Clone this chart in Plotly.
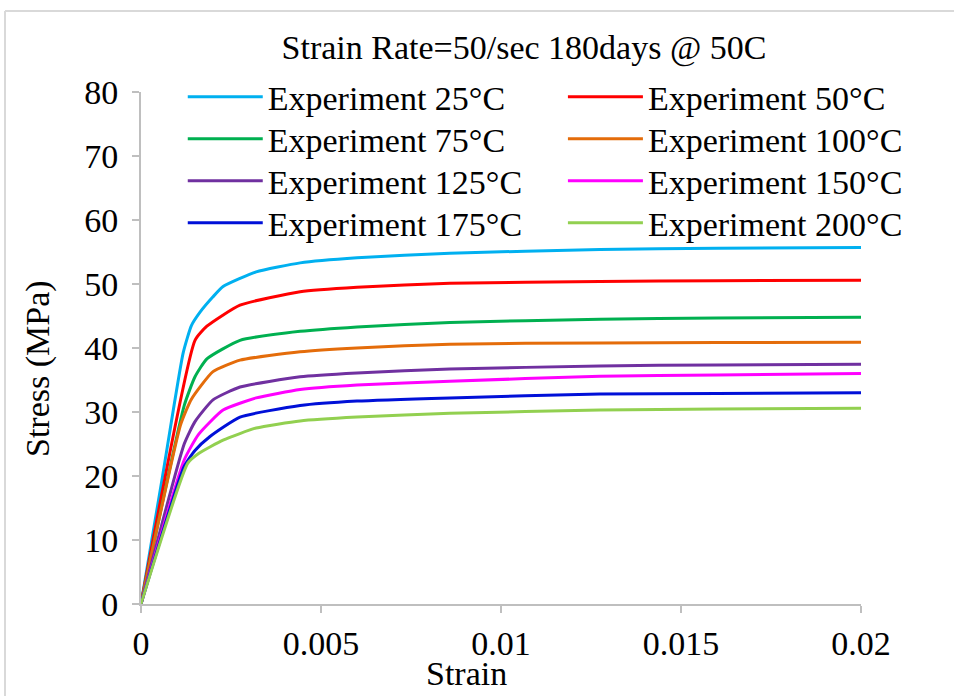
import plotly.graph_objects as go

# ---- data (strain, stress in MPa) ----
names = ["Experiment 25°C", "Experiment 50°C", "Experiment 75°C", "Experiment 100°C",
         "Experiment 125°C", "Experiment 150°C", "Experiment 175°C", "Experiment 200°C"]
colors = ["#00B0F0", "#FF0000", "#00B050", "#E46C0A", "#7030A0", "#FF00FF", "#0010D8", "#92D050"]

strain_25 = [0, 0.0006, 0.00117, 0.0014, 0.00164, 0.002, 0.00228, 0.0032, 0.00442, 0.006, 0.00858, 0.01275, 0.016, 0.02]
stress_25 = [0, 20.0, 39.2, 43.5, 45.6, 48.0, 49.6, 51.9, 53.3, 54.1, 54.8, 55.4, 55.6, 55.7]

strain_50 = [0, 0.0015, 0.00183, 0.00275, 0.00442, 0.006, 0.00858, 0.01275, 0.016, 0.02]
stress_50 = [0, 41.2, 43.4, 46.7, 48.8, 49.5, 50.1, 50.4, 50.5, 50.6]

strain_75 = [0, 0.0012, 0.0015, 0.00183, 0.00275, 0.00442, 0.006, 0.00858, 0.01275, 0.016, 0.02]
stress_75 = [0, 31.0, 35.5, 38.3, 41.2, 42.6, 43.3, 44.0, 44.5, 44.7, 44.8]

strain_100 = [0, 0.0011, 0.0014, 0.002, 0.00275, 0.00442, 0.006, 0.00858, 0.01275, 0.016, 0.02]
stress_100 = [0, 28.0, 32.0, 36.3, 38.1, 39.4, 40.0, 40.6, 40.8, 40.85, 40.9]

strain_125 = [0, 0.0012, 0.0015, 0.002, 0.00275, 0.00442, 0.006, 0.00858, 0.01275, 0.016, 0.02]
stress_125 = [0, 25.0, 28.5, 31.9, 33.9, 35.5, 36.1, 36.7, 37.2, 37.35, 37.45]

strain_150 = [0, 0.0012, 0.0016, 0.00228, 0.0032, 0.00442, 0.006, 0.00858, 0.01275, 0.016, 0.02]
stress_150 = [0, 22.5, 26.5, 30.3, 32.2, 33.5, 34.2, 34.8, 35.6, 35.8, 36.0]

strain_175 = [0, 0.0012, 0.0015, 0.0019, 0.00275, 0.00442, 0.006, 0.00858, 0.01275, 0.016, 0.02]
stress_175 = [0, 21.5, 24.0, 26.1, 29.2, 31.0, 31.7, 32.2, 32.8, 32.9, 33.0]

strain_200 = [0, 0.0013, 0.0016, 0.00228, 0.0032, 0.00442, 0.006, 0.00858, 0.01275, 0.016, 0.02]
stress_200 = [0, 22.0, 23.5, 25.6, 27.5, 28.6, 29.2, 29.8, 30.3, 30.45, 30.6]

x_ticks = [0, 0.005, 0.01, 0.015, 0.02]
x_tick_text = ["0", "0.005", "0.01", "0.015", "0.02"]
y_ticks = [0, 10, 20, 30, 40, 50, 60, 70, 80]

series_x = [strain_25, strain_50, strain_75, strain_100, strain_125, strain_150, strain_175, strain_200]
series_y = [stress_25, stress_50, stress_75, stress_100, stress_125, stress_150, stress_175, stress_200]

FONT = "Liberation Serif, Times New Roman, serif"
FS = 34

# legend grid placement (paper coords): 2 columns x 4 rows
leg_cols = [0.058, 0.586]
leg_rows = [0.990, 0.908, 0.826, 0.744]

fig = go.Figure()
layout_legends = {}
for i, (nm, c, xs, ys) in enumerate(zip(names, colors, series_x, series_y)):
    key = "legend" if i == 0 else f"legend{i + 1}"
    fig.add_trace(go.Scatter(
        x=xs, y=ys, mode="lines", name=nm, showlegend=True,
        line=dict(color=c, width=3, shape="spline", smoothing=0.5),
        legend=key,
    ))
    layout_legends[key] = dict(
        font=dict(family=FONT, size=FS, color="black"),
        bgcolor="rgba(0,0,0,0)", borderwidth=0, itemwidth=75,
        x=leg_cols[i % 2], y=leg_rows[i // 2], xanchor="left", yanchor="middle",
    )

axis_font = dict(family=FONT, size=FS, color="black")

fig.update_layout(
    width=954, height=696,
    showlegend=True,
    margin=dict(l=141, r=93, t=92, b=92),
    paper_bgcolor="white", plot_bgcolor="white",
    title=dict(text="Strain Rate=50/sec 180days @ 50C", x=524 / 954, xanchor="center",
               y=1 - 47 / 696, yanchor="middle", font=axis_font),
    xaxis=dict(range=[0, 0.02], tickvals=x_ticks, ticktext=x_tick_text,
               showgrid=False, zeroline=False, showline=True, linecolor="#BFBFBF", linewidth=2,
               ticks="outside", ticklen=7, tickcolor="#BFBFBF", tickwidth=2,
               tickfont=axis_font, ticklabelstandoff=1),
    yaxis=dict(range=[0, 80], tickvals=y_ticks,
               showgrid=False, zeroline=False, showline=True, linecolor="#BFBFBF", linewidth=2,
               ticks="outside", ticklen=7, tickcolor="#BFBFBF", tickwidth=2,
               tickfont=axis_font, ticklabelstandoff=7),
    annotations=[
        dict(text="Strain", xref="paper", yref="paper", x=(466 - 141) / 720, y=(604 - 673) / 512,
             xanchor="center", yanchor="middle", showarrow=False, font=axis_font),
        dict(text="Stress (MPa)", xref="paper", yref="paper", x=(38 - 141) / 720, y=(604 - 369) / 512,
             xanchor="center", yanchor="middle", textangle=-90, showarrow=False, font=axis_font),
    ],
    shapes=[
        dict(type="line", xref="paper", yref="paper",
             x0=(5 - 141) / 720, x1=(5 - 141) / 720, y0=-0.3, y1=(604 - 11) / 512,
             line=dict(color="#D9D9D9", width=2), layer="below"),
        dict(type="line", xref="paper", yref="paper",
             x0=(5 - 141) / 720, x1=1.3, y0=(604 - 11) / 512, y1=(604 - 11) / 512,
             line=dict(color="#D9D9D9", width=2), layer="below"),
    ],
    **layout_legends,
)

fig.write_html("out.html", config={"displayModeBar": False},
               post_script="document.body.style.margin='0';")
